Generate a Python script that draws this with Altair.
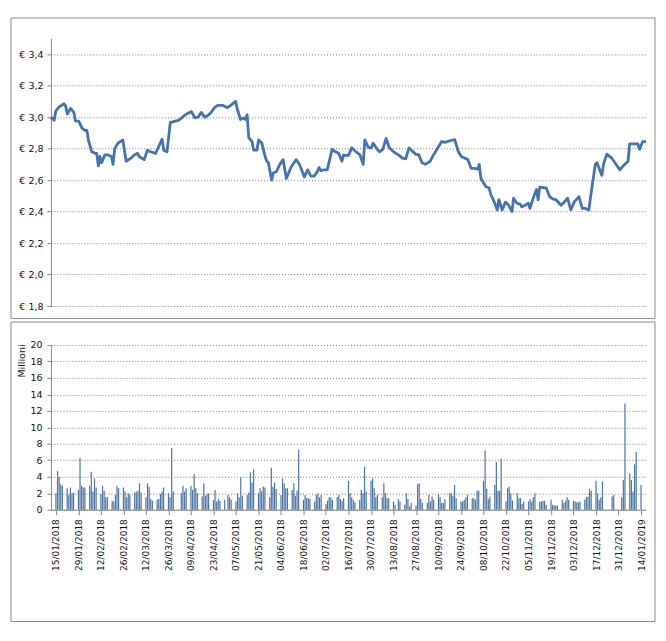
import altair as alt
import pandas as pd

START = "2018-01-15"
END = "2019-01-14"

# ---- price line: vertices (days after 15/01/2018, price in EUR) ----
price_day = [
    0, 2, 3, 5, 8, 9, 10, 12, 14, 15,
    17, 19, 21, 22, 23, 25, 27, 28, 29, 30,
    31, 33, 35, 37, 38, 39, 41, 44, 46, 49,
    51, 53, 54, 57, 59, 61, 64, 66, 68, 69,
    71, 73, 76, 78, 80, 81, 83, 86, 88, 90,
    92, 94, 96, 98, 100, 102, 105, 108, 110, 113,
    114, 116, 118, 119, 120, 121, 123, 124, 126, 127,
    129, 131, 132, 133, 135, 136, 138, 140, 142, 144,
    147, 150, 152, 155, 157, 159, 161, 163, 164, 165,
    167, 169, 172, 174, 176, 178, 179,
    180, 182, 184, 186, 189, 191, 192, 194, 196, 197,
    200, 201, 203, 205, 207, 209, 211, 213, 215, 217,
    219, 221, 223, 225, 227, 229, 232, 234, 237, 239,
    241, 244, 247, 249, 251, 253, 255, 257, 259, 261,
    262, 263, 266, 268, 269, 271, 273, 274, 276, 278,
    280, 282, 283, 285, 287, 288, 290, 292, 293, 295,
    297, 298, 299, 302, 303, 305, 307, 309, 312, 314,
    316, 318, 320, 323, 325, 327, 329, 331, 333, 334,
    337, 338, 340, 343, 345, 348, 350, 353, 354, 357,
    359, 360, 362, 364,
]
price_eur = [
    3.00, 2.98, 3.04, 3.065, 3.085, 3.07, 3.02, 3.055, 3.03, 2.975,
    2.975, 2.93, 2.915, 2.915, 2.85, 2.78, 2.77, 2.77, 2.69, 2.75,
    2.71, 2.76, 2.76, 2.75, 2.70, 2.80, 2.835, 2.855, 2.72, 2.74,
    2.76, 2.77, 2.75, 2.73, 2.79, 2.78, 2.77, 2.815, 2.86, 2.79,
    2.78, 2.965, 2.975, 2.98, 2.995, 3.005, 3.02, 3.035, 2.995, 3.00,
    3.03, 3.00, 3.01, 3.03, 3.06, 3.075, 3.075, 3.06, 3.075, 3.10,
    3.05, 2.985, 2.995, 2.985, 3.015, 2.87, 2.845, 2.79, 2.79, 2.855,
    2.835, 2.75, 2.72, 2.71, 2.60, 2.645, 2.655, 2.70, 2.73, 2.61,
    2.685, 2.73, 2.70, 2.62, 2.665, 2.625, 2.625, 2.655, 2.68, 2.66,
    2.665, 2.665, 2.795, 2.78, 2.77, 2.72, 2.76,
    2.757, 2.757, 2.805, 2.785, 2.76, 2.70, 2.855, 2.81, 2.805, 2.835,
    2.79, 2.78, 2.795, 2.865, 2.805, 2.785, 2.77, 2.757, 2.74, 2.735,
    2.805, 2.785, 2.765, 2.76, 2.71, 2.70, 2.72, 2.76, 2.81, 2.845,
    2.84, 2.85, 2.857, 2.785, 2.75, 2.74, 2.73, 2.675, 2.675, 2.67,
    2.70, 2.61, 2.56, 2.55, 2.51, 2.465, 2.41, 2.475, 2.41, 2.46,
    2.44, 2.40, 2.485, 2.453, 2.447, 2.43, 2.44, 2.453, 2.42, 2.485,
    2.54, 2.475, 2.555, 2.55, 2.55, 2.495, 2.48, 2.475, 2.44, 2.46,
    2.485, 2.41, 2.46, 2.495, 2.42, 2.42, 2.41, 2.56, 2.70, 2.71,
    2.63, 2.70, 2.765, 2.74, 2.71, 2.665, 2.69, 2.72, 2.83, 2.83,
    2.83, 2.795, 2.845, 2.845,
]

# ---- daily volume (millions), one value per weekday Mon-Fri; 0 = market closed ----
volume_mln = [
    2.0, 4.7, 4.0, 3.1, 2.9,   # 15/01
    2.6, 1.8, 2.7, 2.0, 2.1,   # 22/01
    2.4, 6.3, 2.9, 2.7, 2.7,   # 29/01
    2.9, 4.6, 2.2, 3.8, 2.7,   # 05/02
    1.9, 2.9, 2.3, 1.5, 1.5,   # 12/02
    1.1, 1.0, 1.8, 2.9, 2.6,   # 19/02
    2.7, 2.2, 1.5, 2.0, 1.8,   # 26/02
    2.1, 2.2, 2.3, 3.2, 2.1,   # 05/03
    1.5, 3.2, 2.8, 1.3, 1.1,   # 12/03
    1.2, 1.3, 1.9, 2.2, 2.7,   # 19/03
    2.0, 1.5, 7.5, 2.2, 0.0,   # 26/03
    0.0, 2.0, 2.9, 2.2, 2.6,   # 02/04
    2.9, 2.4, 4.3, 2.6, 2.0,   # 09/04
    1.6, 3.2, 1.7, 1.9, 2.0,   # 16/04
    1.2, 2.4, 1.0, 1.3, 1.1,   # 23/04
    1.2, 0.0, 1.8, 1.5, 1.2,   # 30/04
    1.0, 2.0, 1.5, 3.9, 1.7,   # 07/05
    1.8, 2.1, 4.5, 3.3, 4.9,   # 14/05
    2.0, 2.6, 2.2, 2.8, 2.7,   # 21/05
    1.5, 5.1, 2.8, 3.3, 2.5,   # 28/05
    1.8, 3.8, 3.2, 2.6, 2.6,   # 04/06
    2.4, 3.2, 1.7, 2.3, 7.3,   # 11/06
    1.2, 1.8, 1.4, 1.4, 1.3,   # 18/06
    1.0, 1.8, 2.0, 1.5, 1.8,   # 25/06
    0.7, 1.1, 1.5, 1.5, 1.2,   # 02/07
    1.5, 1.8, 1.3, 1.1, 1.4,   # 09/07
    3.5, 2.0, 1.5, 1.2, 0.9,   # 16/07
    1.2, 2.4, 2.0, 5.2, 2.2,   # 23/07
    3.5, 3.8, 2.6, 1.5, 1.8,   # 30/07
    1.5, 3.2, 2.0, 1.4, 1.4,   # 06/08
    1.0, 0.6, 0.0, 1.3, 1.0,   # 13/08
    0.6, 2.0, 1.3, 0.4, 0.8,   # 20/08
    0.5, 3.1, 3.2, 1.3, 0.8,   # 27/08
    0.8, 1.8, 1.0, 1.6, 1.2,   # 03/09
    1.9, 1.5, 0.8, 0.8, 1.3,   # 10/09
    2.0, 2.0, 1.7, 3.0, 1.4,   # 17/09
    1.0, 1.0, 1.2, 1.5, 1.8,   # 24/09
    1.4, 1.4, 1.2, 2.3, 2.3,   # 01/10
    3.5, 7.2, 2.5, 1.3, 1.6,   # 08/10
    3.0, 5.8, 2.3, 2.3, 6.2,   # 15/10
    1.0, 2.6, 2.8, 2.0, 1.1,   # 22/10
    2.0, 1.4, 1.4, 0.7, 1.0,   # 29/10
    1.0, 1.3, 1.0, 1.5, 2.0,   # 05/11
    1.0, 1.0, 1.1, 1.1, 0.6,   # 12/11
    1.2, 0.6, 0.5, 0.5, 0.5,   # 19/11
    1.2, 0.8, 1.1, 1.5, 1.2,   # 26/11
    1.1, 1.0, 0.9, 0.9, 1.0,   # 03/12
    1.2, 1.5, 1.6, 2.5, 2.3,   # 10/12
    3.5, 2.0, 1.2, 1.5, 3.4,   # 17/12
    0.0, 0.0, 0.0, 1.6, 1.8,   # 24/12
    0.0, 0.0, 1.5, 3.6, 12.9,  # 31/12
    4.4, 3.6, 2.2, 5.5, 7.0,   # 07/01
    3.0,                       # 14/01/2019
]

tick_dates = [
    "2018-01-15", "2018-01-29", "2018-02-12", "2018-02-26", "2018-03-12",
    "2018-03-26", "2018-04-09", "2018-04-23", "2018-05-07", "2018-05-21",
    "2018-06-04", "2018-06-18", "2018-07-02", "2018-07-16", "2018-07-30",
    "2018-08-13", "2018-08-27", "2018-09-10", "2018-09-24", "2018-10-08",
    "2018-10-22", "2018-11-05", "2018-11-19", "2018-12-03", "2018-12-17",
    "2018-12-31", "2019-01-14",
]
price_ticks = [1.8, 2.0, 2.2, 2.4, 2.6, 2.8, 3.0, 3.2, 3.4]
volume_ticks = [0, 2, 4, 6, 8, 10, 12, 14, 16, 18, 20]


def ms(s):
    return int(pd.Timestamp(s, tz="UTC").timestamp() * 1000)


price_df = pd.DataFrame({
    "date": (pd.Timestamp(START) + pd.to_timedelta(price_day, unit="D")).strftime("%Y-%m-%d"),
    "price": price_eur,
})
vol_dates = pd.bdate_range(START, END).strftime("%Y-%m-%d")
n = min(len(vol_dates), len(volume_mln))
vol_df = pd.DataFrame({"date": list(vol_dates[:n]), "vol": volume_mln[:n]})
vol_df = vol_df[vol_df["vol"] > 0]

x_domain = [ms(START), ms(END)]
x_ticks = [ms(d) for d in tick_dates]

FONT = "DejaVu Sans"
AXIS_GREY = "#868686"
GRID = dict(grid=True, gridColor="#7a7a7a", gridDash=[1, 2], gridWidth=1)
LINE_BLUE = "#4673AE"
BAR_BLUE = "#4C74A3"
BORDER = "#8c8c8c"

one = pd.DataFrame({"k": [0]})

# ---------------- top panel: price ----------------
price_line = alt.Chart(price_df).mark_line(
    color=LINE_BLUE, strokeWidth=2.8, strokeJoin="round"
).encode(
    x=alt.X("date:T", scale=alt.Scale(type="utc", domain=x_domain), axis=None),
    y=alt.Y(
        "price:Q",
        scale=alt.Scale(domain=[1.8, 3.5], nice=False, zero=False),
        axis=alt.Axis(
            values=price_ticks,
            labelExpr="'€ ' + replace(format(datum.value, '.1f'), '.', ',')",
            title=None,
            domainColor=AXIS_GREY,
            tickColor=AXIS_GREY,
            tickSize=4,
            labelPadding=4,
            labelFont=FONT,
            labelFontSize=9.5,
            labelColor="#111",
            **GRID,
        ),
    ),
)
top_border = alt.Chart(one).mark_rect(fill=None, stroke=BORDER, strokeWidth=1).encode(
    x=alt.value(-40), x2=alt.value(605), y=alt.value(-20.5), y2=alt.value(280.5)
)
top = alt.layer(top_border, price_line).properties(width=596, height=268)

# ---------------- bottom panel: volume ----------------
vol_bars = alt.Chart(vol_df).mark_bar(color=BAR_BLUE, width=1.2).encode(
    x=alt.X(
        "date:T",
        scale=alt.Scale(type="utc", domain=x_domain),
        axis=alt.Axis(
            values=x_ticks,
            labelExpr="utcFormat(datum.value, '%d/%m/%Y')",
            labelAngle=270,
            labelAlign="right",
            labelBaseline="middle",
            labelFont=FONT,
            labelFontSize=9,
            labelColor="#111",
            labelOverlap=False,
            labelPadding=4,
            tickSize=5,
            tickColor=AXIS_GREY,
            domainColor=AXIS_GREY,
            grid=False,
            title=None,
        ),
    ),
    y=alt.Y(
        "vol:Q",
        scale=alt.Scale(domain=[0, 20], nice=False),
        axis=alt.Axis(
            values=volume_ticks,
            title="Millioni",
            titleFont=FONT,
            titleFontSize=9.5,
            titleFontWeight="normal",
            titleColor="#111",
            titleAngle=270,
            titleAlign="right",
            titleBaseline="bottom",
            titleX=-24,
            titleY=-1,
            domainColor=AXIS_GREY,
            tickColor=AXIS_GREY,
            tickSize=4,
            labelPadding=5,
            labelFont=FONT,
            labelFontSize=9.5,
            labelColor="#111",
            **GRID,
        ),
    ),
)
bot_border = alt.Chart(one).mark_rect(fill=None, stroke=BORDER, strokeWidth=1).encode(
    x=alt.value(-40), x2=alt.value(605), y=alt.value(-23), y2=alt.value(277)
)
bottom = alt.layer(bot_border, vol_bars).properties(width=596, height=165)

chart = alt.vconcat(top, bottom, spacing=2).properties(
    padding={"left": 2, "top": 9, "right": 2, "bottom": 2},
    background="white",
).configure_view(stroke=None)

chart.save("out.html", embed_options={"renderer": "svg", "actions": False})
